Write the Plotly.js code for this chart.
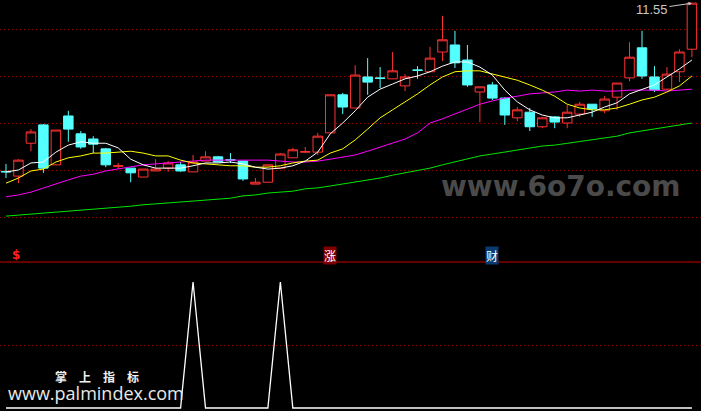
<!DOCTYPE html>
<html>
<head>
<meta charset="utf-8">
<script src="https://cdn.plot.ly/plotly-3.0.1.min.js"></script>
<style>html,body{margin:0;padding:0;background:#000;}#chart{width:701px;height:411px;}</style>
</head>
<body>
<div id="chart"></div>
<script>
// ---- data ----
const openP  = [7.97,7.87,8.57,8.96,8.11,9.15,8.77,8.66,8.45,8.08,8.04,7.85,7.98,8.04,8.11,7.96,8.19,8.28,8.22,8.19,7.70,7.74,8.04,8.26,8.38,8.38,8.79,9.60,9.32,9.98,9.96,9.94,9.79,10.13,10.09,10.51,10.66,10.34,9.66,9.81,9.53,9.11,9.23,8.92,9.13,9.00,9.19,9.40,9.26,9.55,9.96,10.60,9.98,9.72,10.09,10.57];
const highP  = [8.13,8.23,8.87,8.98,8.85,9.26,8.83,8.72,8.47,8.15,8.04,8.02,8.23,8.19,8.17,8.32,8.40,8.30,8.36,8.19,7.83,8.11,8.36,8.47,8.49,8.79,9.60,9.64,10.23,10.38,10.19,10.51,10.04,10.21,10.62,11.28,10.96,10.66,9.77,9.87,9.55,9.34,9.32,9.13,9.15,9.38,9.45,9.40,9.57,9.85,10.72,10.96,10.21,10.19,10.57,11.55];
const lowP   = [7.83,7.72,8.40,7.94,8.11,8.60,8.45,8.36,8.06,8.02,7.74,7.85,7.98,7.96,7.96,7.96,8.19,8.17,8.15,7.77,7.70,7.74,8.04,8.26,8.36,8.32,8.79,9.19,9.32,9.60,9.74,9.94,9.68,9.94,10.09,10.32,10.17,9.77,9.02,9.49,8.96,9.04,8.83,8.89,8.89,8.89,9.13,9.13,9.21,9.28,9.89,9.94,9.66,9.70,9.87,10.40];
const closeP = [7.96,8.21,8.81,8.04,8.85,8.87,8.49,8.55,8.11,8.09,7.94,8.02,8.02,8.15,7.98,8.17,8.28,8.17,8.21,7.81,7.74,8.11,8.34,8.43,8.39,8.72,9.60,9.34,10.02,9.87,9.95,10.11,9.98,10.12,10.38,10.77,10.28,9.81,9.77,9.53,9.17,9.28,8.92,9.11,9.02,9.23,9.40,9.30,9.51,9.85,10.40,10.00,9.70,10.04,10.51,11.55];

const ma5  = [7.96,8.00,8.15,8.17,8.38,8.53,8.60,8.57,8.57,8.47,8.23,8.11,8.04,8.04,8.04,8.09,8.15,8.15,8.17,8.13,8.06,8.02,8.04,8.09,8.19,8.38,8.77,9.00,9.26,9.55,9.72,9.83,9.94,10.00,10.09,10.21,10.30,10.30,10.19,10.02,9.70,9.45,9.28,9.17,9.11,9.11,9.17,9.23,9.34,9.43,9.62,9.72,9.81,9.98,10.15,10.34];
const ma10 = [7.72,7.83,7.98,8.02,8.17,8.26,8.30,8.36,8.36,8.38,8.40,8.36,8.30,8.30,8.21,8.15,8.13,8.11,8.09,8.09,8.06,8.06,8.09,8.15,8.19,8.21,8.36,8.45,8.64,8.87,9.11,9.28,9.45,9.62,9.81,9.98,10.09,10.11,10.11,10.04,9.98,9.91,9.81,9.70,9.57,9.40,9.32,9.28,9.28,9.32,9.40,9.49,9.55,9.66,9.79,10.00];
const ma20 = [7.43,7.47,7.53,7.62,7.70,7.79,7.87,7.91,7.98,8.02,8.06,8.11,8.13,8.15,8.17,8.19,8.21,8.21,8.21,8.21,8.21,8.21,8.19,8.17,8.17,8.19,8.23,8.28,8.32,8.40,8.49,8.57,8.66,8.79,9.00,9.09,9.19,9.30,9.40,9.47,9.53,9.57,9.62,9.64,9.66,9.70,9.68,9.70,9.68,9.68,9.70,9.70,9.70,9.68,9.70,9.72];
const ma60 = [7.02,7.04,7.06,7.09,7.11,7.13,7.15,7.17,7.19,7.21,7.23,7.26,7.28,7.30,7.32,7.34,7.36,7.38,7.40,7.45,7.47,7.51,7.53,7.55,7.60,7.62,7.66,7.70,7.74,7.79,7.83,7.89,7.94,8.00,8.04,8.11,8.17,8.23,8.30,8.34,8.38,8.43,8.47,8.51,8.53,8.57,8.60,8.64,8.68,8.72,8.79,8.83,8.87,8.91,8.96,9.00];

const signal = [0,0,0,0,0,0,0,0,0,0,0,0,0,0,0,1,0,0,0,0,0,0,1,0,0,0,0,0,0,0,0,0,0,0,0,0,0,0,0,0,0,0,0,0,0,0,0,0,0,0,0,0,0,0,0,0];

const priceGrid = [7,8,9,10,11];
const signalGrid = [0.5];
const markLabels = [{i:1, t:'$'}, {i:26, t:'涨'}, {i:39, t:'财'}];
const lastHighText = '11.55';

const idx = openP.map((_, i) => i);

// ---- traces ----
const traces = [
  {type:'scatter', mode:'lines', x:idx, y:ma60, line:{color:'#00e600', width:1}, hoverinfo:'skip'},
  {type:'scatter', mode:'lines', x:idx, y:ma20, line:{color:'#ff00ff', width:1}, hoverinfo:'skip'},
  {type:'scatter', mode:'lines', x:idx, y:ma10, line:{color:'#ffff00', width:1}, hoverinfo:'skip'},
  {type:'scatter', mode:'lines', x:idx, y:ma5,  line:{color:'#ffffff', width:1}, hoverinfo:'skip'},
  {type:'candlestick', x:idx, open:openP, high:highP, low:lowP, close:closeP,
    increasing:{line:{color:'#ff3232', width:1}, fillcolor:'#000000'},
    decreasing:{line:{color:'#54ffff', width:1}, fillcolor:'#54ffff'},
    whiskerwidth:0, hoverinfo:'skip'},
  {type:'scatter', mode:'lines', x:idx, y:signal, yaxis:'y2', line:{color:'#ffffff', width:1.3}, hoverinfo:'skip'}
];

const H = 411, W = 701;
const sepY = (H - 262) / H;

const annotations = [
  {xref:'x', yref:'y', x:55, y:11.55, text:lastHighText, showarrow:true, ax:-40, ay:6,
   arrowhead:2, arrowsize:0.7, arrowwidth:1, arrowcolor:'#c8c8c8',
   font:{family:'Liberation Sans, Arial, sans-serif', size:13, color:'#c8c8c8'}},
  {xref:'paper', yref:'paper', x:561/W, y:1-186/H, text:'www.6o7o.com', showarrow:false,
   xanchor:'center', yanchor:'middle',
   font:{family:'DejaVu Sans, sans-serif', size:28, color:'#4a4a4a', weight:700}},
  {xref:'paper', yref:'paper', x:97/W, y:1-376/H, text:'掌　上　指　标', showarrow:false,
   xanchor:'center', yanchor:'middle',
   font:{family:'Noto Sans CJK SC, sans-serif', size:12, color:'#f0f0f0', weight:700}},
  {xref:'paper', yref:'paper', x:96/W, y:1-393/H, text:'www.palmindex.com', showarrow:false,
   xanchor:'center', yanchor:'middle',
   font:{family:'Open Sans, sans-serif', size:18, color:'#e8e8e8'}}
];
markLabels.forEach(m => {
  const isDollar = m.t === '$';
  annotations.push({
    xref:'x', yref:'paper', x:m.i, y:1-255/H, text:m.t, showarrow:false,
    xanchor:'center', yanchor:'middle', xshift: isDollar ? -2 : 0,
    bgcolor: isDollar ? 'rgba(0,0,0,0)' : (m.t === '涨' ? '#800000' : '#0a3a70'),
    borderpad:0,
    font:{family: isDollar ? 'DejaVu Sans, sans-serif' : 'Noto Sans CJK SC, sans-serif',
          size:12, color: isDollar ? '#ff2020' : '#ffffff', weight: isDollar ? 700 : 400}
  });
});

const layout = {
  width:W, height:H,
  paper_bgcolor:'#000000', plot_bgcolor:'#000000',
  margin:{l:0, r:0, t:0, b:0, pad:0},
  showlegend:false, hovermode:false, boxgap:0.24, boxgroupgap:0,
  xaxis:{range:[-0.48, 55.73], showgrid:false, zeroline:false, showticklabels:false, ticks:'',
         showline:false, rangeslider:{visible:false}, fixedrange:true},
  yaxis:{domain:[sepY, 1], range:[6.043, 11.617], tickvals:priceGrid, showticklabels:false, ticks:'',
         showgrid:true, gridcolor:'#a00000', gridwidth:1, griddash:'1px,3px', zeroline:false, showline:false},
  yaxis2:{domain:[0, sepY], range:[-0.0238, 1.1587], tickvals:signalGrid, showticklabels:false, ticks:'',
          showgrid:true, gridcolor:'#a00000', gridwidth:1, griddash:'1px,3px', zeroline:false, showline:false},
  shapes:[{type:'line', xref:'paper', yref:'paper', x0:0, x1:1, y0:sepY, y1:sepY,
           line:{color:'#c80000', width:1}}],
  annotations:annotations
};

Plotly.newPlot('chart', traces, layout, {staticPlot:true, displayModeBar:false});
</script>
</body>
</html>
